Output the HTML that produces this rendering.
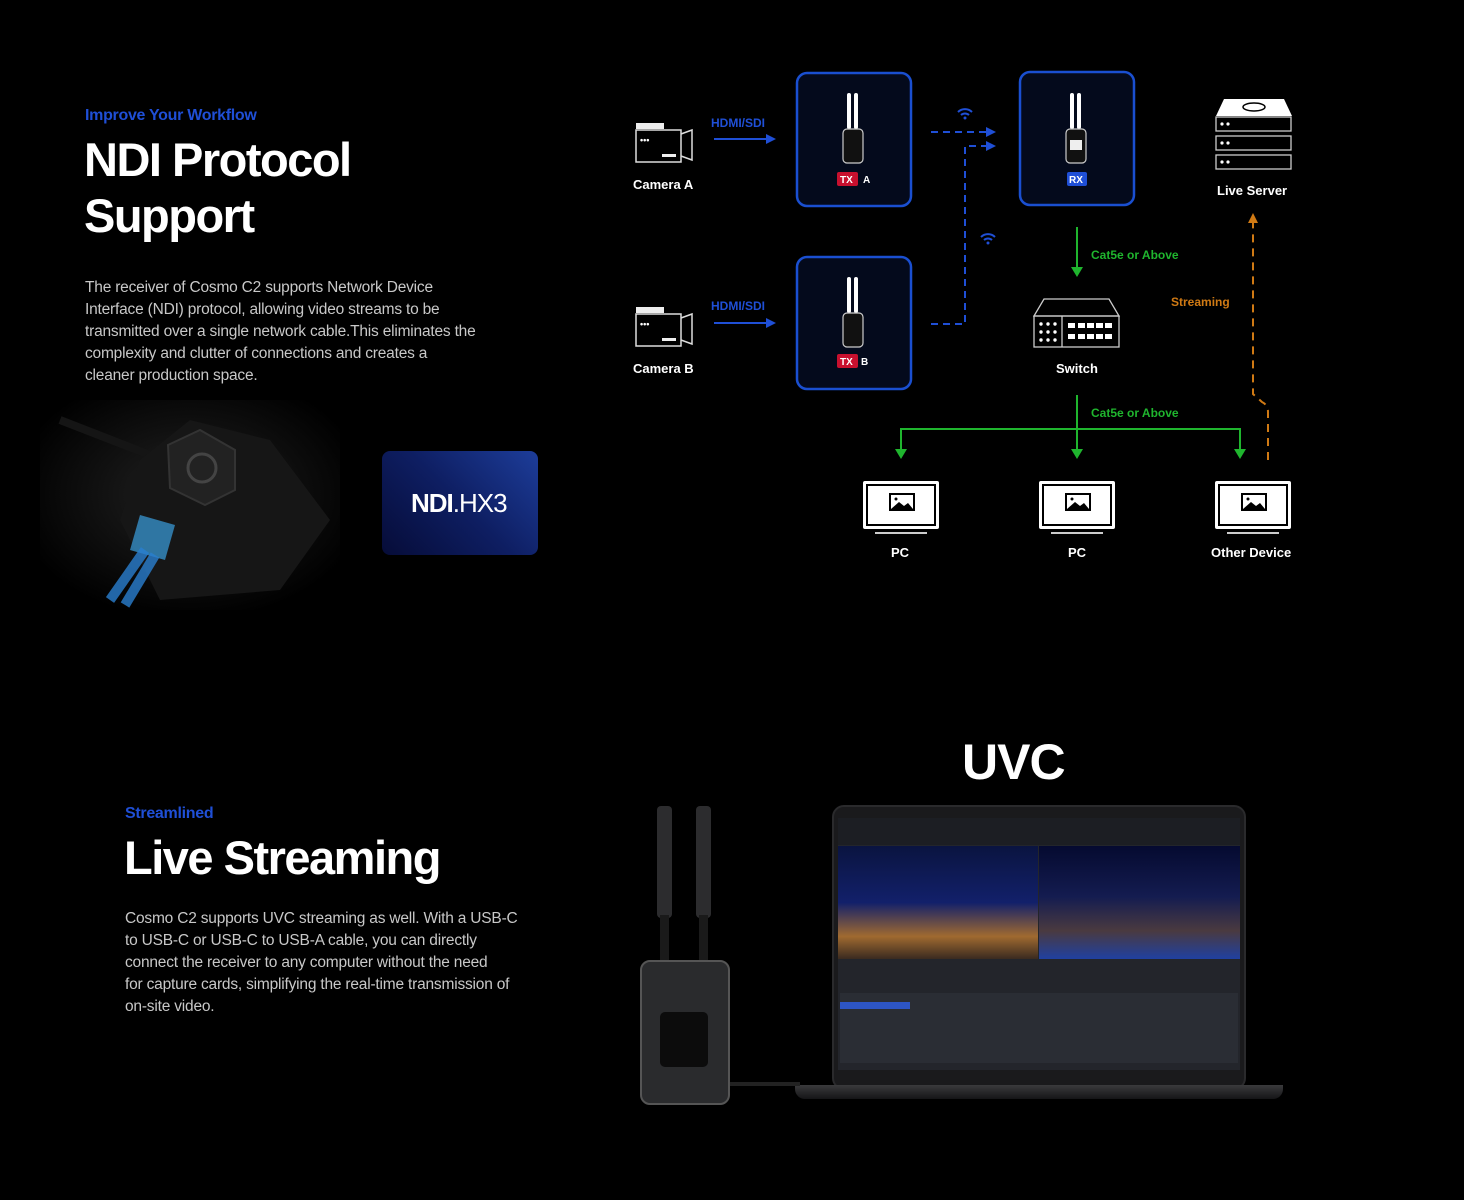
<!DOCTYPE html>
<html><head><meta charset="utf-8"><style>
*{margin:0;padding:0;box-sizing:border-box}
body{width:1464px;height:1200px;background:#000;position:relative;overflow:hidden;font-family:"Liberation Sans",sans-serif;color:#fff}
.abs{position:absolute}
.eye{color:#1f4fd6;font-weight:bold;font-size:16px;letter-spacing:-0.3px}
.h1{font-weight:bold;font-size:47px;line-height:56px;letter-spacing:-1.5px}
.p{color:#c8c8c8;font-size:15.5px;line-height:22px;letter-spacing:-0.2px;white-space:nowrap}
</style></head><body>

<div class="abs eye" style="left:85px;top:107px">Improve Your Workflow</div>
<div class="abs h1" style="left:84px;top:132px">NDI Protocol<br>Support</div>
<div class="abs p" style="left:85px;top:277px">The receiver of Cosmo C2 supports Network Device<br>Interface (NDI) protocol, allowing video streams to be<br>transmitted over a single network cable.This eliminates the<br>complexity and clutter of connections and creates a<br>cleaner production space.</div>

<svg class="abs" style="left:40px;top:400px" width="300" height="210">
<defs><radialGradient id="rg" cx="0.5" cy="0.45" r="0.6"><stop offset="0" stop-color="#222"/><stop offset="1" stop-color="#000"/></radialGradient></defs>
<rect width="300" height="210" fill="url(#rg)"/>
<path d="M20 20 L110 55" stroke="#151515" stroke-width="8"/>
<polygon points="100,60 150,20 230,40 290,120 240,190 120,200 80,120" fill="#161616"/>
<polygon points="128,45 160,30 195,50 195,90 165,105 130,88" fill="#222" stroke="#333" stroke-width="2"/>
<circle cx="162" cy="68" r="14" fill="none" stroke="#444" stroke-width="3"/>
<polygon points="100,115 135,125 125,160 90,150" fill="#3aa0e0" opacity="0.7"/>
<path d="M105 150 L70 200 M115 155 L85 205" stroke="#2a7fd0" stroke-width="10" opacity="0.8"/>
</svg>

<div class="abs" style="left:382px;top:451px;width:156px;height:104px;border-radius:8px;background:linear-gradient(225deg,#1d3d9a 0%,#0e1e62 50%,#060c38 100%);"></div>
<div class="abs" style="left:411px;top:488px;font-size:26px;letter-spacing:-1px"><b>NDI</b><span style="font-weight:normal">.HX3</span></div>

<svg class="abs" style="left:0;top:0" width="1464" height="600" font-family="Liberation Sans, sans-serif">
<defs>
<marker id="ab" markerWidth="10" markerHeight="10" refX="8" refY="5" orient="auto" markerUnits="userSpaceOnUse"><path d="M0,0 L10,5 L0,10z" fill="#1f4fd6"/></marker>
<g id="cam"><rect x="0" y="10" width="45" height="32" fill="none" stroke="#ddd" stroke-width="1.5"/><rect x="0" y="3" width="28" height="6" fill="#eee"/><path d="M45 14 L56 10 L56 40 L45 36" fill="none" stroke="#ddd" stroke-width="1.5"/><text x="4" y="23" fill="#fff" font-size="9" font-weight="bold">•••</text><rect x="26" y="34" width="14" height="3" fill="#eee"/></g>
<g id="dev"><rect x="-5" y="0" width="4" height="36" rx="2" fill="#fff"/><rect x="2" y="0" width="4" height="36" rx="2" fill="#fff"/><rect x="-9" y="36" width="20" height="34" rx="4" fill="#111" stroke="#ccc" stroke-width="1.2"/></g>
<g id="mon"><rect x="0" y="0" width="76" height="48" rx="2" fill="#fff"/><rect x="3" y="3" width="70" height="42" fill="#000"/><rect x="5" y="5" width="66" height="38" fill="#fff"/><rect x="26" y="12" width="26" height="18" fill="#000"/><rect x="28" y="14" width="22" height="14" fill="#fff"/><path d="M28 28 L36 21 L41 25 L45 22 L50 28z" fill="#000"/><circle cx="33" cy="18" r="1.5" fill="#000"/><rect x="12" y="51" width="52" height="2" fill="#ccc"/></g>
</defs>

<use href="#cam" x="636" y="120"/>
<use href="#cam" x="636" y="304"/>
<text x="633" y="189" fill="#fff" font-size="13" font-weight="bold">Camera A</text>
<text x="633" y="373" fill="#fff" font-size="13" font-weight="bold">Camera B</text>
<text x="711" y="127" fill="#1f4fd6" font-size="12" font-weight="bold">HDMI/SDI</text>
<text x="711" y="310" fill="#1f4fd6" font-size="12" font-weight="bold">HDMI/SDI</text>
<line x1="714" y1="139" x2="774" y2="139" stroke="#1f4fd6" stroke-width="2" marker-end="url(#ab)"/>
<line x1="714" y1="323" x2="774" y2="323" stroke="#1f4fd6" stroke-width="2" marker-end="url(#ab)"/>

<g fill="#040a1c" stroke="#1a4fd0" stroke-width="2.5">
<rect x="797" y="73" width="114" height="133" rx="10"/>
<rect x="1020" y="72" width="114" height="133" rx="10"/>
<rect x="797" y="257" width="114" height="132" rx="10"/>
</g>
<use href="#dev" x="852" y="93"/>
<use href="#dev" x="1075" y="93"/>
<use href="#dev" x="852" y="277"/>
<rect x="1070" y="140" width="12" height="10" fill="#eee"/>
<rect x="837" y="172" width="21" height="14" rx="2" fill="#c8102e"/><text x="840" y="183" fill="#fff" font-size="10" font-weight="bold">TX</text><text x="863" y="183" fill="#fff" font-size="10" font-weight="bold">A</text>
<rect x="837" y="354" width="21" height="14" rx="2" fill="#c8102e"/><text x="840" y="365" fill="#fff" font-size="10" font-weight="bold">TX</text><text x="861" y="365" fill="#fff" font-size="10" font-weight="bold">B</text>
<rect x="1067" y="172" width="20" height="14" rx="2" fill="#1f4fd6"/><text x="1069" y="183" fill="#fff" font-size="10" font-weight="bold">RX</text>

<g stroke="#1f4fd6" stroke-width="2" fill="none" stroke-dasharray="7,5">
<path d="M931 132 L994 132" marker-end="url(#ab)"/>
<path d="M931 324 L965 324 L965 146 L994 146" marker-end="url(#ab)"/>
</g>
<g fill="none" stroke="#1f4fd6" stroke-width="2"><path d="M958 112 a10 10 0 0 1 14 0 M961 115 a6 6 0 0 1 8 0"/><path d="M981 237 a10 10 0 0 1 14 0 M984 240 a6 6 0 0 1 8 0"/></g>
<circle cx="965" cy="118" r="1.5" fill="#1f4fd6"/><circle cx="988" cy="243" r="1.5" fill="#1f4fd6"/>

<path d="M1224 99 L1284 99 L1292 116 L1216 116z" fill="#fff"/>
<ellipse cx="1254" cy="107" rx="11" ry="4" fill="none" stroke="#000" stroke-width="1.5"/>
<g fill="none" stroke="#ccc" stroke-width="1.3"><rect x="1216" y="117" width="75" height="14"/><rect x="1216" y="136" width="75" height="14"/><rect x="1216" y="155" width="75" height="14"/></g>
<g fill="#fff"><circle cx="1222" cy="124" r="1.6"/><circle cx="1228" cy="124" r="1.6"/><circle cx="1222" cy="143" r="1.6"/><circle cx="1228" cy="143" r="1.6"/><circle cx="1222" cy="162" r="1.6"/><circle cx="1228" cy="162" r="1.6"/></g>
<text x="1217" y="195" fill="#fff" font-size="13" font-weight="bold">Live Server</text>

<path d="M1044 299 L1109 299 L1119 316 L1034 316z" fill="none" stroke="#ccc" stroke-width="1.3"/>
<rect x="1034" y="316" width="85" height="31" fill="none" stroke="#ccc" stroke-width="1.3"/>
<line x1="1062" y1="316" x2="1062" y2="347" stroke="#ccc" stroke-width="1.3"/>
<g fill="#fff"><circle cx="1041" cy="324" r="1.7"/><circle cx="1048" cy="324" r="1.7"/><circle cx="1055" cy="324" r="1.7"/><circle cx="1041" cy="332" r="1.7"/><circle cx="1048" cy="332" r="1.7"/><circle cx="1055" cy="332" r="1.7"/><circle cx="1041" cy="340" r="1.7"/><circle cx="1048" cy="340" r="1.7"/><circle cx="1055" cy="340" r="1.7"/>
<rect x="1068" y="323" width="7" height="5"/><rect x="1078" y="323" width="7" height="5"/><rect x="1087" y="323" width="7" height="5"/><rect x="1096" y="323" width="7" height="5"/><rect x="1105" y="323" width="7" height="5"/>
<rect x="1068" y="334" width="7" height="5"/><rect x="1078" y="334" width="7" height="5"/><rect x="1087" y="334" width="7" height="5"/><rect x="1096" y="334" width="7" height="5"/><rect x="1105" y="334" width="7" height="5"/></g>
<text x="1056" y="373" fill="#fff" font-size="13" font-weight="bold">Switch</text>

<g stroke="#1fb52e" stroke-width="2" fill="none">
<line x1="1077" y1="227" x2="1077" y2="268"/>
<line x1="1077" y1="395" x2="1077" y2="450"/>
<path d="M901 450 L901 429 L1240 429 L1240 450"/>
</g>
<g fill="#1fb52e"><path d="M1071 267 L1083 267 L1077 277z"/><path d="M895 449 L907 449 L901 459z"/><path d="M1071 449 L1083 449 L1077 459z"/><path d="M1234 449 L1246 449 L1240 459z"/></g>
<text x="1091" y="259" fill="#1fb52e" font-size="12" font-weight="bold">Cat5e or Above</text>
<text x="1091" y="417" fill="#1fb52e" font-size="12" font-weight="bold">Cat5e or Above</text>

<path d="M1268 460 L1268 412 Q1268 405 1262 402 L1253 394 L1253 222" stroke="#d07a14" stroke-width="2" fill="none" stroke-dasharray="8,6"/>
<path d="M1248 223 L1258 223 L1253 213z" fill="#d07a14"/>
<text x="1171" y="306" fill="#d07a14" font-size="12" font-weight="bold">Streaming</text>

<use href="#mon" x="863" y="481"/>
<use href="#mon" x="1039" y="481"/>
<use href="#mon" x="1215" y="481"/>
<text x="891" y="557" fill="#fff" font-size="13" font-weight="bold">PC</text>
<text x="1068" y="557" fill="#fff" font-size="13" font-weight="bold">PC</text>
<text x="1211" y="557" fill="#fff" font-size="13" font-weight="bold">Other Device</text>
</svg>

<div class="abs eye" style="left:125px;top:805px">Streamlined</div>
<div class="abs h1" style="left:124px;top:830px">Live Streaming</div>
<div class="abs p" style="left:125px;top:908px">Cosmo C2 supports UVC streaming as well. With a USB-C<br>to USB-C or USB-C to USB-A cable, you can directly<br>connect the receiver to any computer without the need<br>for capture cards, simplifying the real-time transmission of<br>on-site video.</div>
<div class="abs" style="left:962px;top:733px;font-size:50px;font-weight:bold;letter-spacing:-1px">UVC</div>

<div class="abs" style="left:832px;top:805px;width:414px;height:285px;border-radius:12px;background:#1a1a1c;border:2px solid #2a2a2c"></div>
<div class="abs" style="left:838px;top:818px;width:402px;height:252px;background:#23252b"></div>
<div class="abs" style="left:838px;top:818px;width:402px;height:27px;background:#1c1e23"></div>
<div class="abs" style="left:838px;top:846px;width:200px;height:113px;background:linear-gradient(180deg,#0a1440 0%,#12206a 50%,#a06a30 80%,#3a2a20 100%)"></div>
<div class="abs" style="left:1039px;top:846px;width:201px;height:113px;background:linear-gradient(180deg,#050a30 0%,#141c50 45%,#4a3a40 75%,#2040a0 100%)"></div>
<div class="abs" style="left:840px;top:993px;width:398px;height:70px;background:#2a2d34"></div>
<div class="abs" style="left:840px;top:1002px;width:70px;height:7px;background:#2d55c4"></div>
<div class="abs" style="left:795px;top:1085px;width:488px;height:14px;border-radius:0 0 10px 10px;background:linear-gradient(#3a3a3c,#151517)"></div>

<div class="abs" style="left:657px;top:806px;width:15px;height:112px;border-radius:4px;background:#2c2c2e"></div>
<div class="abs" style="left:696px;top:806px;width:15px;height:112px;border-radius:4px;background:#2c2c2e"></div>
<div class="abs" style="left:660px;top:915px;width:9px;height:50px;background:#1a1a1a"></div>
<div class="abs" style="left:699px;top:915px;width:9px;height:50px;background:#1a1a1a"></div>
<div class="abs" style="left:640px;top:960px;width:90px;height:145px;border-radius:10px;background:#2a2b2d;border:2px solid #555"></div>
<div class="abs" style="left:660px;top:1012px;width:48px;height:55px;border-radius:5px;background:#0c0c0c"></div>
<div class="abs" style="left:730px;top:1082px;width:70px;height:4px;background:#222"></div>

</body></html>
